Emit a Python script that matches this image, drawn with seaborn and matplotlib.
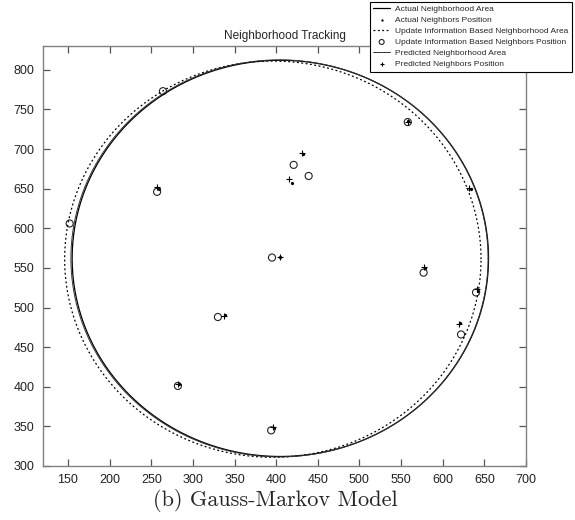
import numpy as np
import pandas as pd
import matplotlib
matplotlib.use("Agg")
import matplotlib.pyplot as plt
import seaborn as sns

# ---- data ----
# neighborhood areas (circle center x, center y, radius)
actual_area = (405, 562, 250)
update_area = (396, 561, 250)
predicted_area = (404, 562, 250.5)

actual_x = [259, 419, 558, 634, 283, 338, 405, 642, 579, 621, 397, 432]
actual_y = [649, 657, 735, 649, 403, 490, 564, 521, 550, 480, 348, 694]

update_x = [264, 152, 257, 421, 439, 558, 395, 577, 330, 282, 640, 622, 394]
update_y = [773, 606, 646, 680, 666, 734, 563, 544, 488, 401, 519, 466, 345]

pred_x = [257, 431, 416, 404, 558, 578, 641, 337, 282, 396, 620, 632]
pred_y = [652, 695, 662, 564, 734, 551, 523, 489, 403, 349, 479, 651]

x_ticks = [150, 200, 250, 300, 350, 400, 450, 500, 550, 600, 650, 700]
y_ticks = [300, 350, 400, 450, 500, 550, 600, 650, 700, 750, 800]

labels = ["Actual Neighborhood Area", "Actual Neighbors Position",
          "Update Information Based Neighborhood Area",
          "Update Information Based Neighbors Position",
          "Predicted Neighborhood Area", "Predicted Neighbors Position"]


def circle_df(c):
    t = np.linspace(0, 2 * np.pi, 400)
    return pd.DataFrame({"x": c[0] + c[2] * np.cos(t), "y": c[1] + c[2] * np.sin(t)})


sns.set_style("ticks")
plt.rcParams["font.family"] = ["Liberation Sans", "DejaVu Sans"]

fig = plt.figure(figsize=(5.75, 5.2), dpi=100)
ax = fig.add_axes([43 / 575, 1 - 466 / 520, (526 - 43) / 575, (466 - 46) / 520])

sns.lineplot(data=circle_df(actual_area), x="x", y="y", sort=False, ax=ax,
             color="black", lw=0.9, label=labels[0], estimator=None)
sns.scatterplot(x=actual_x, y=actual_y, ax=ax, marker=".", s=22, color="black",
                edgecolor="black", linewidth=0, label=labels[1])
sns.lineplot(data=circle_df(update_area), x="x", y="y", sort=False, ax=ax,
             color="black", lw=0.9, ls=(0, (1.5, 2.0)), label=labels[2], estimator=None)
sns.scatterplot(x=update_x, y=update_y, ax=ax, marker="o", s=26, facecolor="none",
                edgecolor="#222222", linewidth=0.8, label=labels[3])
sns.lineplot(data=circle_df(predicted_area), x="x", y="y", sort=False, ax=ax,
             color="#333333", lw=0.7, label=labels[4], estimator=None)
sns.scatterplot(x=pred_x, y=pred_y, ax=ax, marker="+", s=24, color="black",
                linewidth=0.8, label=labels[5])

ax.set_xlim(120, 700)
ax.set_ylim(300, 830)
ax.set_xticks(x_ticks)
ax.set_yticks(y_ticks)
ax.set_xlabel("")
ax.set_ylabel("")
ax.tick_params(axis="both", which="major", direction="in", top=True, right=True,
               bottom=True, left=True, labeltop=False, labelright=False,
               length=5, width=0.9, color="#555555", labelsize=9, labelcolor="#222222", pad=6)
for s in ax.spines.values():
    s.set_color("#808080")
    s.set_linewidth(1.0)
ax.set_title("Neighborhood Tracking", fontsize=8.5, pad=5)

handles, labs = ax.get_legend_handles_labels()
ax.legend_.remove()
leg = fig.legend(handles, labs, loc="upper left", bbox_to_anchor=(370 / 575, 1 - 2 / 520),
                 bbox_transform=fig.transFigure, fontsize=6.0, frameon=True, fancybox=False,
                 edgecolor="black", framealpha=1, handlelength=2.0, labelspacing=0.38,
                 borderpad=0.4, handletextpad=0.6, borderaxespad=0, markerscale=0.7)
leg.get_frame().set_linewidth(0.8)

fig.text(275 / 575, 1 - 500 / 520, "(b) Gauss-Markov Model", family="cmr10",
         fontsize=16, ha="center", va="center")

fig.savefig("out.png", dpi=100)
